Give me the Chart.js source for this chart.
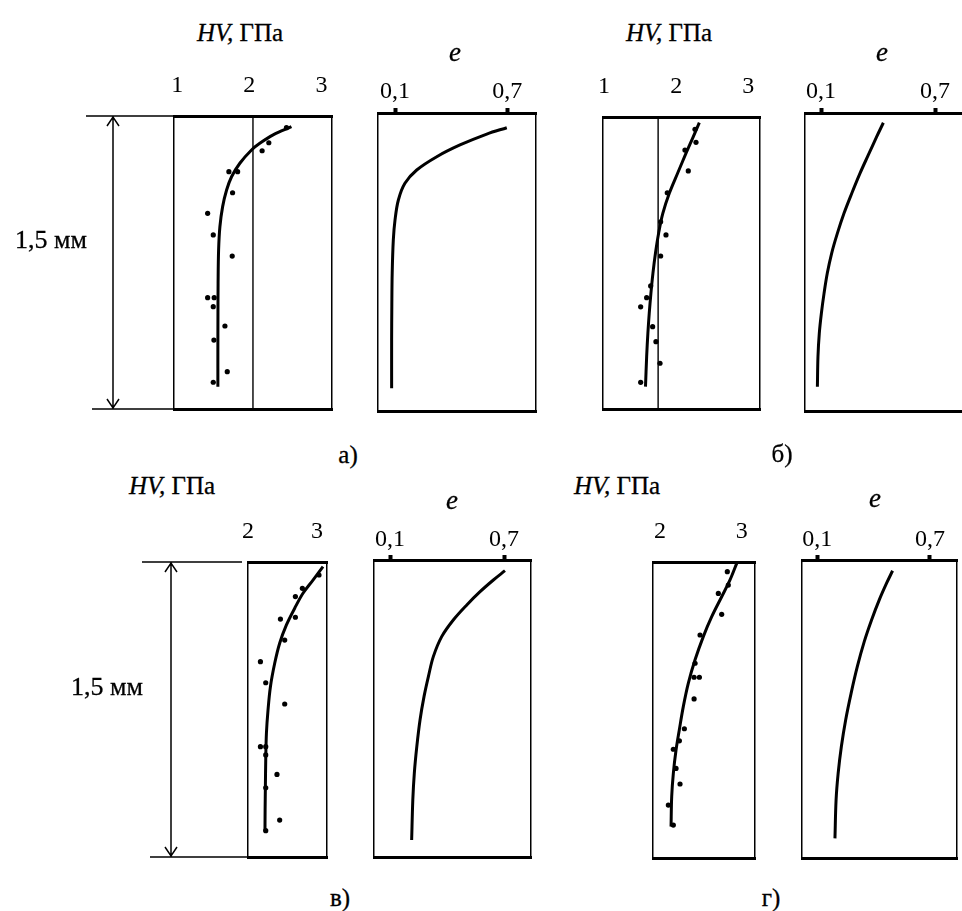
<!DOCTYPE html>
<html><head><meta charset="utf-8">
<script src="https://cdn.jsdelivr.net/npm/chart.js@4.4.0/dist/chart.umd.min.js"></script>
<style>
html,body{margin:0;padding:0;background:#fff;}
#wrap{position:relative;width:962px;height:911px;overflow:hidden;background:#fff;}
canvas{position:absolute;}
.t{position:absolute;z-index:5;font-family:"Liberation Serif","Times New Roman",serif;font-size:25px;color:#000;white-space:nowrap;transform:translate(-50%,-50%);line-height:1;-webkit-text-stroke:0.3px #000;}
.e{font-style:italic;font-size:27px;}
.m{font-size:26px;}
</style></head><body>
<div id="wrap">
<canvas id="aHV"></canvas><canvas id="aE"></canvas><canvas id="bHV"></canvas><canvas id="bE"></canvas>
<canvas id="cHV"></canvas><canvas id="cE"></canvas><canvas id="dHV"></canvas><canvas id="dE"></canvas>
<div class="t" style="left:240px;top:32px"><i>HV,</i> ГПа</div>
<div class="t" style="left:669px;top:32px"><i>HV,</i> ГПа</div>
<div class="t" style="left:172px;top:485px"><i>HV,</i> ГПа</div>
<div class="t" style="left:617px;top:485px"><i>HV,</i> ГПа</div>
<div class="t e" style="left:455px;top:52px">e</div>
<div class="t e" style="left:882px;top:52px">e</div>
<div class="t e" style="left:452px;top:500px">e</div>
<div class="t e" style="left:875px;top:498px">e</div>
<div class="t m" style="left:51px;top:240px">1,5 мм</div>
<div class="t m" style="left:107px;top:687px">1,5 мм</div>
<div class="t" style="left:348px;top:454px">а)</div>
<div class="t" style="left:782px;top:453px">б)</div>
<div class="t" style="left:340px;top:897px">в)</div>
<div class="t" style="left:771px;top:897px">г)</div>
</div>
<script>
// ---------- tick labels ----------
const hvTicksAB = [1, 2, 3];
const hvTicksCD = [2, 3];
const eTicks = [0.1, 0.7];

// ---------- panel а) ----------
const hvDepthA = [0.060,0.137,0.178,0.285,0.285,0.393,0.498,0.609,0.717,0.930,0.930,0.976,1.075,1.147,1.309,1.363];
const hvValA   = [2.515,2.270,2.177,1.716,1.837,1.767,1.421,1.499,1.762,1.421,1.512,1.499,1.661,1.508,1.693,1.499];
const hvFitDepthA = [0.055,0.097,0.140,0.174,0.242,0.311,0.379,0.464,0.567,0.686,0.856,1.027,1.198,1.386];
const hvFitValA   = [2.584,2.330,2.145,2.030,1.868,1.753,1.684,1.629,1.591,1.573,1.566,1.564,1.563,1.563];
const refLineA = 2.05;
const eDepthA = [0.074,0.106,0.161,0.220,0.287,0.354,0.438,0.539,0.639,0.807,0.975,1.143,1.386];
const eValA   = [0.697,0.590,0.447,0.323,0.216,0.153,0.118,0.100,0.091,0.085,0.083,0.082,0.082];

// ---------- panel б) ----------
const hvDepthB = [0.063,0.130,0.170,0.277,0.389,0.538,0.606,0.714,0.868,0.928,0.975,1.077,1.154,1.265,1.363];
const hvValB   = [2.261,2.275,2.122,2.168,1.877,1.785,1.859,1.785,1.647,1.591,1.508,1.674,1.720,1.776,1.508];
const hvFitDepthB = [0.029,0.101,0.186,0.289,0.392,0.495,0.597,0.700,0.803,0.906,1.008,1.111,1.231,1.385];
const hvFitValB   = [2.321,2.238,2.137,2.020,1.905,1.815,1.757,1.713,1.678,1.650,1.627,1.608,1.591,1.575];
const refLineB = 1.75;
const eDepthB = [0.049,0.119,0.211,0.304,0.404,0.505,0.606,0.706,0.807,0.908,1.008,1.109,1.227,1.378];
const eValB   = [0.428,0.393,0.349,0.305,0.262,0.221,0.186,0.156,0.133,0.116,0.102,0.091,0.084,0.081];

// ---------- panel в) ----------
const hvDepthC = [0.066,0.134,0.176,0.290,0.281,0.397,0.507,0.614,0.722,0.939,0.939,0.981,1.080,1.148,1.312,1.366];
const hvValC   = [3.029,2.788,2.687,2.470,2.687,2.532,2.180,2.257,2.532,2.180,2.257,2.257,2.420,2.257,2.459,2.257];
const hvFitDepthC = [0.024,0.092,0.159,0.235,0.320,0.413,0.515,0.634,0.753,0.871,1.007,1.143,1.261,1.371];
const hvFitValC   = [3.087,2.942,2.797,2.677,2.557,2.459,2.387,2.325,2.290,2.267,2.257,2.252,2.248,2.246];
const eDepthC = [0.054,0.101,0.160,0.227,0.303,0.387,0.488,0.589,0.690,0.808,0.943,1.076,1.212,1.414];
const eValC   = [0.705,0.644,0.574,0.504,0.433,0.372,0.328,0.302,0.279,0.258,0.241,0.228,0.220,0.214];

// ---------- panel г) ----------
const hvDepthD = [0.049,0.117,0.159,0.265,0.370,0.513,0.584,0.584,0.694,0.845,0.906,0.949,1.046,1.125,1.232,1.333];
const hvValD   = [2.824,2.836,2.714,2.755,2.490,2.429,2.417,2.482,2.417,2.298,2.237,2.163,2.196,2.245,2.102,2.163];
const hvFitDepthD = [0.007,0.091,0.176,0.277,0.378,0.497,0.615,0.733,0.851,0.953,1.071,1.189,1.341];
const hvFitValD   = [2.939,2.857,2.755,2.633,2.530,2.428,2.346,2.285,2.236,2.196,2.163,2.143,2.135];
const eDepthD = [0.054,0.117,0.201,0.302,0.411,0.537,0.671,0.805,0.940,1.074,1.208,1.401];
const eValD   = [0.501,0.469,0.430,0.389,0.350,0.313,0.280,0.251,0.228,0.211,0.200,0.194];

const DEPTH_MAX = 1.5;
const FONT = 'Liberation Serif';

function pts(vals, depths){ return vals.map((v,i)=>({x:v, y:depths[i]})); }
function fmt(v){ return String(v).replace('.', ','); }

const dimPlugin = {
  id: 'dim',
  afterDraw(chart, args, o){
    if (!o || o.vx === undefined) return;
    const ctx = chart.ctx, L = chart.chartArea.left, ys = chart.scales.y;
    const yt = ys.getPixelForValue(0), yb = ys.getPixelForValue(DEPTH_MAX);
    ctx.save();
    ctx.strokeStyle = '#000'; ctx.lineWidth = 1.5;
    ctx.beginPath();
    ctx.moveTo(L+o.topFrom, yt); ctx.lineTo(L+o.topTo, yt);
    ctx.moveTo(L+o.botFrom, yb); ctx.lineTo(L+o.botTo, yb);
    ctx.moveTo(L+o.vx, yt); ctx.lineTo(L+o.vx, yb);
    ctx.moveTo(L+o.vx-6, yt+10); ctx.lineTo(L+o.vx, yt+1); ctx.lineTo(L+o.vx+6, yt+10);
    ctx.moveTo(L+o.vx-6, yb-10); ctx.lineTo(L+o.vx, yb-1); ctx.lineTo(L+o.vx+6, yb-10);
    ctx.stroke();
    ctx.restore();
  }
};

function panel(id, s){
  const c = document.getElementById(id);
  const [L, T, R, B] = s.box;
  const padL = s.padL || 30, padR = 30, padT = 60, padB = 14;
  c.width = R - L + padL + padR; c.height = B - T + padT + padB;
  c.style.left = (L - padL) + 'px'; c.style.top = (T - padT) + 'px';
  c.style.width = c.width + 'px'; c.style.height = c.height + 'px';
  const datasets = [];
  if (s.ref !== undefined) {
    datasets.push({data:[{x:s.ref,y:0},{x:s.ref,y:DEPTH_MAX}], showLine:true, borderColor:'#000', borderWidth:1.4, pointRadius:0});
  }
  datasets.push({data:s.fit, showLine:true, borderColor:'#000', borderWidth:3, pointRadius:0, tension:0.35});
  if (s.points) datasets.push({data:s.points, showLine:false, pointRadius:2.6, pointBackgroundColor:'#000', pointBorderColor:'#000', pointBorderWidth:0});
  const hideW = sc => { sc.width = 0; };
  const plugins = {legend:{display:false}, tooltip:{enabled:false}};
  if (s.dim) plugins.dim = s.dim;
  new Chart(c, {
    type: 'scatter',
    data: {datasets},
    plugins: s.dim ? [dimPlugin] : [],
    options: {
      responsive:false, animation:false, devicePixelRatio:1, events:[],
      layout:{padding:{left:padL, right:padR, top:0, bottom:padB}},
      plugins,
      scales: {
        x: {type:'linear', position:'top', min:s.min, max:s.max,
            afterBuildTicks: sc => { sc.ticks = s.ticks.map(v => ({value:v})); },
            afterFit: sc => { sc.height = padT; },
            ticks: {padding:s.tickPad, color:'#000', font:{family:FONT, size:24}, callback:v => fmt(v), autoSkip:false, maxRotation:0},
            grid: s.marks ? {display:true, drawOnChartArea:false, drawTicks:true, tickLength:5, tickWidth:4, tickColor:'#000', color:'#000'} : {display:false},
            border: {display:true, width:3, color:'#000'}},
        x2: {type:'linear', position:'bottom', display:true, min:0, max:1,
            ticks:{display:false}, grid:{display:false},
            border:{display:true, width:3, color:'#000'},
            afterFit: sc => { sc.height = 0; }},
        y: {type:'linear', position:'left', reverse:true, min:0, max:DEPTH_MAX,
            ticks:{display:false}, grid:{display:false},
            border:{display:true, width:1.5, color:'#000'}, afterFit: hideW},
        y2: {type:'linear', position:'right', reverse:true, min:0, max:DEPTH_MAX, display:true,
            ticks:{display:false}, grid:{display:false},
            border:{display:true, width:1.5, color:'#000'}, afterFit: hideW}
      }
    }
  });
}

panel('aHV', {box:[174,116,332,409], padL:174, min:0.954, max:3.147, ticks:hvTicksAB, tickPad:8,
  points:pts(hvValA,hvDepthA), fit:pts(hvFitValA,hvFitDepthA), ref:refLineA,
  dim:{vx:-61, topFrom:-88, topTo:0, botFrom:-82, botTo:0}});
panel('aE', {box:[378,113,536,411], min:0.0092, max:0.853, ticks:eTicks, tickPad:2, marks:true,
  fit:pts(eValA,eDepthA)});
panel('bHV', {box:[603,117,760,409], min:0.986, max:3.162, ticks:hvTicksAB, tickPad:8,
  points:pts(hvValB,hvDepthB), fit:pts(hvFitValB,hvFitDepthB), ref:refLineB});
panel('bE', {box:[805,113,963,411], min:0.0158, max:0.847, ticks:eTicks, tickPad:2, marks:true,
  fit:pts(eValB,eDepthB)});
panel('cHV', {box:[248,562,327,857], padL:208, min:2, max:3.145, ticks:hvTicksCD, tickPad:8,
  points:pts(hvValC,hvDepthC), fit:pts(hvFitValC,hvFitDepthC),
  dim:{vx:-77, topFrom:-106, topTo:-6, botFrom:-98, botTo:0}});
panel('cE', {box:[374,560,531,857], min:0.0158, max:0.842, ticks:eTicks, tickPad:1, marks:true,
  fit:pts(eValC,eDepthC)});
panel('dHV', {box:[653,562,755,858], min:1.914, max:3.163, ticks:hvTicksCD, tickPad:8,
  points:pts(hvValD,hvDepthD), fit:pts(hvFitValD,hvFitDepthD)});
panel('dE', {box:[802,560,957,858], min:0.0185, max:0.844, ticks:eTicks, tickPad:1, marks:true,
  fit:pts(eValD,eDepthD)});
</script>
</body></html>
